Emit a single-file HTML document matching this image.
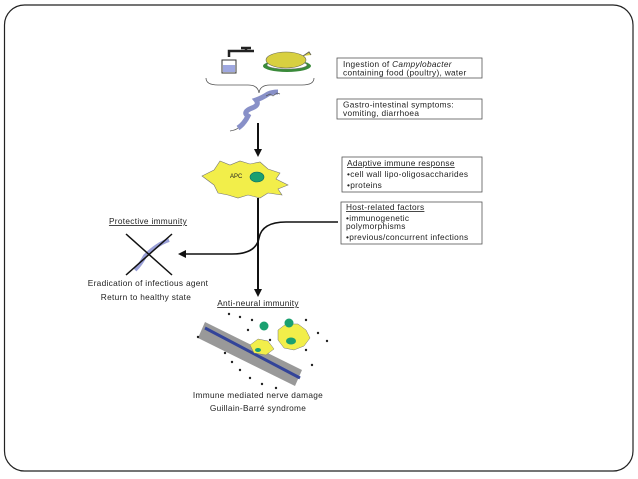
<!DOCTYPE html>
<html><head><meta charset="utf-8"><style>
html,body{margin:0;padding:0;background:#fff;}
svg{display:block;font-family:"Liberation Sans",sans-serif;}
</style></head><body>
<svg width="638" height="479" viewBox="0 0 638 479" xmlns="http://www.w3.org/2000/svg">
<defs>
<marker id="ah" markerWidth="8" markerHeight="8" refX="6" refY="4" orient="auto" markerUnits="userSpaceOnUse"><path d="M0,0 L8,4 L0,8 z" fill="#111"/></marker>
</defs>
<rect x="4.5" y="5" width="628.5" height="466" rx="20" fill="none" stroke="#222" stroke-width="1.2"/>

<!-- glass & tap -->
<rect x="222" y="60" width="14" height="13" fill="#fff" stroke="#333"/>
<rect x="223" y="65" width="12" height="7" fill="#9fa8e0"/>
<path d="M229,57 v-6 h16 M241,48 h10 M246,48 v3 h8" stroke="#222" stroke-width="2.5" fill="none"/>
<!-- chicken -->
<ellipse cx="287" cy="66" rx="24" ry="6" fill="#3a8a3a"/>
<ellipse cx="287" cy="65" rx="20" ry="4" fill="#fff" stroke="#777" stroke-width="0.5"/>
<ellipse cx="286" cy="60" rx="20" ry="8" fill="#d8d040" stroke="#665" stroke-width="0.6"/>
<path d="M303,56 l6,-4 l2,3" stroke="#665" fill="#d8d040"/>
<!-- brace -->
<path d="M206,78 q0,7 12,7 h30 q10,0 11,8 q1,-8 11,-8 h32 q12,0 12,-7" fill="none" stroke="#555" stroke-width="0.8"/>
<!-- bacteria -->
<path d="M238,128 q6,-4 10,-12 q-6,-4 4,-8 q8,-3 4,-8 q6,-2 12,-6 q4,-2 10,-2" stroke="#8890c8" stroke-width="5" fill="none"/>
<path d="M230,131 q6,-1 8,-3 M266,96 l4,-2 l3,2 l4,-3 l3,1" stroke="#555" stroke-width="0.7" fill="none"/>

<!-- vertical arrows -->
<line x1="258" y1="123" x2="258" y2="155" stroke="#111" stroke-width="2" marker-end="url(#ah)"/>
<line x1="258" y1="198" x2="258" y2="295" stroke="#111" stroke-width="2" marker-end="url(#ah)"/>
<!-- APC -->
<path d="M202,176 l12,-6 l6,-9 l10,4 l10,-4 l10,3 l10,-2 l8,7 l12,4 l-4,6 l12,6 l-10,4 l4,6 l-14,-2 l-8,5 l-12,-3 l-10,3 l-10,-3 l-10,-2 l-4,-8 z" fill="#f2ee4a" stroke="#777" stroke-width="0.6"/>
<ellipse cx="257" cy="177" rx="7" ry="5" fill="#1aa070" stroke="#066" stroke-width="0.6"/>
<text x="230" y="178" font-size="6" fill="#222">APC</text>

<!-- curve -->
<path d="M338,222 H286 Q262,222 259,238 Q256,254 232,254 H180" fill="none" stroke="#111" stroke-width="1.6" marker-end="url(#ah)"/>

<!-- boxes -->
<g fill="#fff" stroke="#555" stroke-width="0.8">
<rect x="337" y="58" width="145" height="20"/>
<rect x="337" y="99" width="145" height="20"/>
<rect x="342" y="157" width="140" height="35"/>
<rect x="341" y="202" width="141" height="42"/>
</g>
<g font-size="8.3" fill="#222" letter-spacing="0.3">
<text x="343" y="67">Ingestion of <tspan font-style="italic">Campylobacter</tspan></text>
<text x="343" y="75.5">containing food (poultry), water</text>
<text x="343" y="107.5">Gastro-intestinal symptoms:</text>
<text x="343" y="116">vomiting, diarrhoea</text>
<text x="347" y="166" text-decoration="underline">Adaptive immune response</text>
<text x="347" y="177">•cell wall lipo-oligosaccharides</text>
<text x="347" y="188">•proteins</text>
<text x="346" y="210" text-decoration="underline">Host-related factors</text>
<text x="346" y="221">•immunogenetic</text>
<text x="346" y="229">polymorphisms</text>
<text x="346" y="240">•previous/concurrent infections</text>
</g>

<g font-size="8.3" fill="#222" text-anchor="middle" letter-spacing="0.3">
<text x="148" y="224" text-decoration="underline">Protective immunity</text>
<text x="148" y="286">Eradication of infectious agent</text>
<text x="146" y="300">Return to healthy state</text>
<text x="258" y="306" text-decoration="underline">Anti-neural immunity</text>
<text x="258" y="398">Immune mediated nerve damage</text>
<text x="258" y="411">Guillain-Barré syndrome</text>
</g>
<path d="M135,270 q6,-6 10,-14 q6,-6 12,-10 q6,-4 12,-6" stroke="#9aa0d8" stroke-width="4" fill="none"/>
<line x1="126" y1="234" x2="172" y2="275" stroke="#111" stroke-width="1.5"/>
<line x1="172" y1="234" x2="126" y2="275" stroke="#111" stroke-width="1.5"/>

<!-- nerve -->
<path d="M205,322 L302,370 L295,386 L198,338 z" fill="#999"/>
<line x1="205" y1="328" x2="300" y2="378" stroke="#334499" stroke-width="3"/>
<path d="M250,345 l8,-6 l10,2 l6,8 l-8,6 l-12,-2 z" fill="#f2ee4a" stroke="#777" stroke-width="0.5"/>
<ellipse cx="258" cy="350" rx="3" ry="2" fill="#1aa070"/>
<path d="M278,330 l8,-6 l12,0 l8,6 l4,8 l-6,8 l-10,4 l-10,-2 l-6,-8 z" fill="#f2ee4a" stroke="#777" stroke-width="0.5"/>
<ellipse cx="291" cy="341" rx="5" ry="3.5" fill="#1aa070"/>
<circle cx="264" cy="326" r="4.5" fill="#1aa070"/>
<circle cx="289" cy="323" r="4.5" fill="#1aa070"/>
<g fill="#222">
<circle cx="229" cy="314" r="1.2"/><circle cx="240" cy="317" r="1.2"/><circle cx="252" cy="320" r="1.2"/>
<circle cx="306" cy="320" r="1.2"/><circle cx="318" cy="333" r="1.2"/><circle cx="327" cy="341" r="1.2"/>
<circle cx="198" cy="337" r="1.2"/><circle cx="225" cy="353" r="1.2"/><circle cx="232" cy="362" r="1.2"/>
<circle cx="240" cy="370" r="1.2"/><circle cx="250" cy="378" r="1.2"/><circle cx="312" cy="365" r="1.2"/>
<circle cx="306" cy="350" r="1.2"/><circle cx="262" cy="384" r="1.2"/><circle cx="276" cy="388" r="1.2"/>
<circle cx="248" cy="330" r="1.2"/><circle cx="270" cy="340" r="1.2"/>
</g>
</svg>
</body></html>
